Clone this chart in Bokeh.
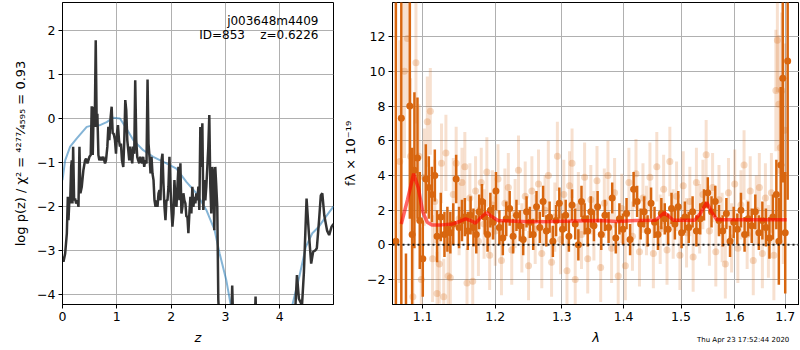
import numpy as np
from bokeh.plotting import figure
from bokeh.layouts import row, column
from bokeh.models import Range1d, FixedTicker, Span, Label, Div
from bokeh.embed import file_html
from bokeh.resources import INLINE

# ---------------- left panel: log p(z) ----------------
z_pz = [0.000, 0.018, 0.049, 0.080, 0.098, 0.110, 0.128, 0.141, 0.159, 0.171, 0.183, 0.196, 0.214, 0.232,
        0.251, 0.275, 0.294, 0.312, 0.330, 0.355, 0.385, 0.416, 0.434, 0.459, 0.477, 0.495, 0.520, 0.538,
        0.557, 0.575, 0.593, 0.612, 0.630, 0.642, 0.661, 0.679, 0.703, 0.722, 0.752, 0.783, 0.801, 0.826,
        0.844, 0.862, 0.887, 0.905, 0.924, 0.942, 0.966, 0.985, 1.003, 1.021, 1.040, 1.058, 1.076, 1.095,
        1.119, 1.138, 1.156, 1.174, 1.193, 1.211, 1.229, 1.248, 1.266, 1.284, 1.303, 1.321, 1.339, 1.358,
        1.376, 1.394, 1.413, 1.431, 1.450, 1.468, 1.486, 1.505, 1.523, 1.547, 1.566, 1.584, 1.602, 1.621,
        1.639, 1.657, 1.676, 1.694, 1.713, 1.731, 1.749, 1.768, 1.786, 1.804, 1.823, 1.841, 1.859, 1.878,
        1.896, 1.914, 1.933, 1.951, 1.969, 1.988, 2.006, 2.024, 2.043, 2.061, 2.080, 2.098, 2.116, 2.135,
        2.153, 2.171, 2.190, 2.208, 2.226, 2.245, 2.263, 2.281, 2.300, 2.318, 2.336, 2.355, 2.373, 2.391,
        2.410, 2.428, 2.446, 2.465, 2.483, 2.502, 2.520, 2.538, 2.557, 2.575, 2.593, 2.612, 2.630, 2.648,
        2.667, 2.685, 2.703, 2.722, 2.740, 2.758, 2.777, 2.795, 2.813, 2.832, 2.850, 2.869, 2.890, 3.100,
        3.125, 3.150, 3.530, 3.555, 3.580, 4.260, 4.317, 4.353, 4.410, 4.445, 4.494, 4.536, 4.579, 4.615,
        4.656, 4.683, 4.725, 4.756, 4.784, 4.820, 4.872, 4.910, 4.955, 4.990]
logp = [-3.14, -3.26, -3.07, -2.61, -1.78, -2.31, -1.82, -1.93, -1.10, -0.95, -1.93, -0.64, -1.86, -1.82,
        -1.93, -1.86, -2.01, -0.64, -1.70, -1.55, -1.17, -0.95, -0.91, -1.02, -0.95, -0.87, -0.83, 0.28,
        -0.83, 0.27, -0.19, 1.78, -0.19, 0.11, -0.83, -0.95, -0.87, -0.95, -0.87, -1.02, -0.95, -0.64,
        -0.19, -0.49, 0.04, 0.27, -0.34, -0.34, -0.49, -0.80, -0.34, -0.15, -0.49, -0.64, -0.57, -0.95,
        -1.10, -0.49, 0.42, 0.19, -0.49, -0.72, -0.95, -0.64, -0.87, -1.02, -0.64, -0.80, 0.87, -0.49,
        -0.87, -0.95, -1.02, -0.87, -0.95, -1.02, -0.87, -1.10, -0.95, -1.02, 0.89, -0.57, -0.87, -1.25,
        -0.87, -1.25, -1.40, -1.86, -2.01, -1.86, -2.01, -1.70, -1.63, -1.86, -0.95, -0.80, -1.48, -2.01,
        -2.31, -1.86, -1.86, -1.55, -0.87, -1.55, -2.08, -2.46, -2.16, -1.40, -1.86, -2.01, -1.55, -1.10,
        -1.86, -1.02, -2.16, -2.01, -1.70, -1.86, -1.93, -2.23, -2.23, -2.61, -2.16, -1.78, -2.16, -1.55,
        -2.01, -1.78, -1.93, -1.70, -1.86, -1.55, -2.08, -0.19, -1.10, -0.11, -2.08, -1.40, -1.86, -1.55,
        -1.10, -0.64, 0.08, -1.55, -2.16, -1.10, -1.25, -2.54, -1.10, -1.55, -2.01, -4.13, -4.60, -5.00,
        -3.80, -5.00, -5.00, -4.05, -5.00, -5.00, -3.56, -4.10, -4.25, -3.50, -1.82, -2.60, -3.30, -3.03,
        -3.00, -2.95, -2.30, -1.75, -1.70, -2.20, -2.55, -2.65, -2.46, -2.40]

z_smooth = [0.000, 0.049, 0.141, 0.263, 0.446, 0.569, 0.691, 0.813, 0.936, 1.058, 1.180, 1.303, 1.486,
            1.670, 1.914, 2.098, 2.281, 2.465, 2.648, 2.801, 2.893, 3.015, 3.150, 3.500, 4.000, 4.240,
            4.360, 4.480, 4.600, 4.720, 4.850, 4.990]
logp_smooth = [-1.40, -0.95, -0.64, -0.45, -0.19, -0.15, -0.15, -0.08, 0.02, 0.00, -0.23, -0.49, -0.72,
               -0.87, -1.02, -1.14, -1.44, -1.70, -2.08, -2.54, -3.07, -3.67, -4.60, -6.00, -6.00, -4.20,
               -3.60, -2.92, -2.61, -2.46, -2.23, -2.00]

z_ticks = [0, 1, 2, 3, 4]
logp_ticks = [-4, -3, -2, -1, 0, 1, 2]
field_name = "j003648m4409"
id_text = "ID=853\u00a0\u00a0\u00a0\u00a0z=0.6226"
ylabel_left = "log p(z) / \u03c7\u00b2 = \u2074\u00b2\u2077\u2077\u2044\u2084\u2085\u2089\u2085 = 0.93"

# ---------------- right panel: spectrum ----------------
lam_d = [1.065, 1.072, 1.078, 1.083, 1.086, 1.089, 1.093, 1.096, 1.100, 1.104, 1.108, 1.112, 1.116, 1.119,
         1.124, 1.129, 1.133, 1.137, 1.141, 1.145, 1.149, 1.153, 1.157, 1.161, 1.165, 1.169, 1.173, 1.177,
         1.181, 1.185, 1.189, 1.193, 1.197, 1.201, 1.206, 1.211, 1.216, 1.221, 1.226, 1.231, 1.236, 1.241,
         1.246, 1.251, 1.256, 1.261, 1.266, 1.271, 1.276, 1.281, 1.286, 1.291, 1.296, 1.301, 1.306, 1.311,
         1.316, 1.321, 1.326, 1.331, 1.336, 1.341, 1.346, 1.351, 1.357, 1.363, 1.369, 1.375, 1.381, 1.387,
         1.393, 1.399, 1.405, 1.411, 1.417, 1.423, 1.429, 1.435, 1.441, 1.447, 1.453, 1.459, 1.465, 1.471,
         1.477, 1.483, 1.489, 1.495, 1.501, 1.507, 1.514, 1.521, 1.528, 1.535, 1.542, 1.549, 1.556, 1.563,
         1.570, 1.577, 1.584, 1.591, 1.598, 1.605, 1.612, 1.619, 1.626, 1.633, 1.640, 1.647, 1.654, 1.661,
         1.668, 1.675, 1.682, 1.687, 1.691, 1.695, 1.700, 1.705]
flux_d = [0.2, 7.3, -4.0, 8.0, 0.6, 4.3, 5.0, 1.4, -0.8, 3.8, 3.3, 2.9, 4.0, 0.5,
          1.6, 0.6, 0.9, 0.7, 1.2, 3.8, 1.0, 1.4, 1.6, 0.8, 1.7, 1.0, 0.6, 1.9,
          2.5, 1.6, 0.6, 2.0, 1.3, 3.1, 1.0, 0.4, 1.5, 2.1, 0.5, 1.7, 1.1, 0.3,
          1.9, 1.3, 0.6, 2.2, 1.0, 2.5, 0.8, 1.6, 0.2, 1.4, 2.4, 0.9, 1.7, 0.5,
          2.3, 1.2, 0.0, 2.5, 1.5, 0.8, 1.9, 1.1, 2.2, 0.6, 1.7, 1.0, 2.7, 0.4,
          1.5, 0.9, 1.8, 0.3, 3.2, 2.5, 1.2, 1.9, 0.8, 2.4, 1.3, 0.6, 1.8, 1.5,
          0.9, 2.1, 1.2, 2.2, 0.7, 1.6, 1.0, 1.9, 0.8, 1.5, 2.3, 3.0, 1.9, 2.5,
          1.4, 0.8, 1.8, 0.2, 1.3, 0.9, 2.0, 0.6, 1.5, 1.1, 1.9, 0.7, 1.4, 1.0,
          0.4, 1.6, 2.9, 0.2, 4.6, 9.6, 0.7, 10.6]
err_d = [14.0, 11.0, 3.5, 6.5, 5.0, 4.5, 3.5, 2.8, 2.2, 2.0, 1.8, 1.6, 1.5, 1.5,
         1.4, 1.3, 1.3, 1.2, 1.2, 1.4, 1.2, 1.2, 1.1, 1.1, 1.1, 1.1, 1.1, 1.0,
         1.0, 1.0, 1.0, 1.0, 1.0, 1.1, 1.0, 1.0, 1.0, 1.0, 1.0, 0.9, 0.9, 0.9,
         0.9, 0.9, 0.9, 0.9, 0.9, 0.9, 0.9, 0.9, 0.9, 0.9, 0.9, 0.9, 0.9, 0.9,
         0.9, 0.9, 0.9, 0.9, 0.9, 0.9, 0.9, 0.9, 0.9, 0.9, 0.9, 0.9, 0.9, 0.9,
         0.9, 0.9, 0.9, 0.9, 1.0, 0.9, 0.9, 0.9, 0.9, 0.9, 0.9, 0.9, 0.9, 0.9,
         0.9, 0.9, 0.9, 0.9, 0.9, 0.9, 0.9, 0.9, 0.9, 0.9, 0.9, 0.9, 0.9, 0.9,
         0.9, 0.9, 0.9, 0.9, 0.9, 0.9, 1.0, 1.0, 1.0, 1.0, 1.0, 1.0, 1.1, 1.1,
         1.2, 1.3, 2.0, 2.5, 4.5, 6.0, 3.5, 8.0]

lam_l = [1.070, 1.076, 1.080, 1.084, 1.087, 1.091, 1.095, 1.098, 1.102, 1.106, 1.110, 1.113, 1.116, 1.119,
         1.122, 1.125, 1.128, 1.131, 1.134, 1.137, 1.141, 1.145, 1.149, 1.153, 1.157, 1.160, 1.164, 1.168,
         1.172, 1.176, 1.180, 1.184, 1.188, 1.192, 1.196, 1.200, 1.204, 1.209, 1.214, 1.219, 1.224, 1.229,
         1.234, 1.239, 1.244, 1.249, 1.254, 1.259, 1.264, 1.269, 1.274, 1.279, 1.284, 1.289, 1.293, 1.298,
         1.303, 1.308, 1.312, 1.316, 1.321, 1.326, 1.331, 1.336, 1.341, 1.346, 1.351, 1.356, 1.362, 1.368,
         1.374, 1.380, 1.385, 1.391, 1.397, 1.403, 1.409, 1.415, 1.421, 1.427, 1.433, 1.439, 1.445, 1.451,
         1.457, 1.463, 1.469, 1.475, 1.480, 1.486, 1.492, 1.498, 1.504, 1.510, 1.516, 1.522, 1.528, 1.534,
         1.540, 1.546, 1.552, 1.558, 1.564, 1.570, 1.576, 1.582, 1.588, 1.594, 1.600, 1.606, 1.612, 1.618,
         1.624, 1.630, 1.636, 1.642, 1.648, 1.654, 1.660, 1.666, 1.672, 1.677, 1.681, 1.684, 1.687, 1.690,
         1.693, 1.696, 1.699]
flux_l = [4.8, 10.0, 11.9, 5.1, -3.0, 10.5, 5.1, -2.0, 3.9, 7.1, 7.7, -0.8, 2.5, -2.8,
          -1.1, 4.7, -3.0, 5.3, -1.8, -1.9, 2.9, 4.7, 1.5, 3.6, 4.5, -2.2, 2.7, -2.1,
          3.1, 0.2, 3.6, 1.2, 4.2, -0.6, 2.3, 0.8, 3.8, -0.9, 2.4, 3.3, -0.3, 1.8,
          4.3, 0.4, 2.8, -1.2, 3.1, 0.9, 3.5, -0.5, 2.0, 4.0, -1.0, 1.6, 5.1, 0.3,
          2.9, -1.5, 3.4, 4.7, -2.0, 2.2, 0.6, 3.9, -0.8, 2.6, 1.1, 3.7, -1.3, 2.4,
          4.0, -0.2, 3.0, -1.8, 2.1, -1.2, 3.6, 0.5, 4.1, -0.4, 2.7, 1.4, 3.9, -0.5,
          4.5, 0.9, 3.2, -0.3, 4.8, 1.2, 2.8, -0.6, 3.4, 0.7, 2.5, -0.7, 3.6, 1.5,
          2.9, 5.2, 0.8, 3.3, -0.4, 2.6, 1.0, -1.1, 3.0, 0.4, 3.5, -0.2, 2.3, 4.6,
          0.6, 3.1, -0.9, 2.0, 3.3, -0.5, 2.7, 0.2, 3.0, -0.6, 8.9, 11.8, 8.1, 5.6,
          8.9, 3.9, 6.6]
err_l = [7.0, 5.0, 4.0, 4.5, 4.0, 3.5, 3.0, 3.0, 2.8, 2.6, 2.5, 2.5, 2.4, 2.4,
         2.3, 2.3, 2.2, 2.2, 2.2, 2.1, 2.1, 2.1, 2.1, 2.0, 2.0, 2.0, 2.0, 2.0,
         2.0, 2.0, 2.0, 2.0, 2.0, 2.0, 2.0, 2.0, 2.0, 2.0, 2.0, 2.0, 2.0, 2.0,
         2.0, 2.0, 2.0, 2.0, 2.0, 2.0, 2.0, 2.0, 2.0, 2.0, 2.0, 2.0, 2.0, 2.0,
         2.0, 2.0, 2.0, 2.0, 2.0, 2.0, 2.0, 2.0, 2.0, 2.0, 2.0, 2.0, 2.0, 2.0,
         2.0, 2.0, 2.0, 2.0, 2.0, 2.0, 2.0, 2.0, 2.0, 2.0, 2.0, 2.0, 2.0, 2.0,
         2.0, 2.0, 2.0, 2.0, 2.0, 2.0, 2.0, 2.0, 2.0, 2.0, 2.0, 2.0, 2.0, 2.0,
         2.0, 2.0, 2.0, 2.0, 2.0, 2.0, 2.0, 2.0, 2.0, 2.0, 2.0, 2.0, 2.0, 2.0,
         2.0, 2.0, 2.0, 2.0, 2.0, 2.0, 2.0, 2.1, 2.3, 2.6, 3.5, 3.0, 4.0, 4.0,
         4.5, 5.0, 5.0]

lam_model = [1.072, 1.080, 1.088, 1.094, 1.100, 1.106, 1.112, 1.125, 1.140, 1.150, 1.158, 1.165, 1.172,
             1.180, 1.188, 1.196, 1.204, 1.220, 1.250, 1.280, 1.320, 1.360, 1.390, 1.420, 1.455, 1.463,
             1.470, 1.478, 1.486, 1.525, 1.535, 1.547, 1.556, 1.566, 1.600, 1.650, 1.703]
flux_model = [1.2, 2.6, 4.1, 3.3, 1.9, 1.3, 1.15, 1.15, 1.2, 1.35, 1.5, 1.4, 1.25,
              1.6, 1.85, 1.6, 1.4, 1.38, 1.33, 1.35, 1.38, 1.40, 1.35, 1.40, 1.42, 1.65,
              1.85, 1.65, 1.42, 1.42, 1.8, 2.45, 1.9, 1.45, 1.45, 1.45, 1.45]

lam_ticks = [1.1, 1.2, 1.3, 1.4, 1.5, 1.6, 1.7]
flux_ticks = [-2, 0, 2, 4, 6, 8, 10, 12]
timestamp = "Thu Apr 23 17:52:44 2020"

FONT = "DejaVu Sans"
ORANGE = "#d8660f"
GRID = "#b0b0b0"


def style(p):
    p.outline_line_color = "black"
    p.outline_line_width = 1
    p.outline_line_alpha = 1
    p.background_fill_color = "white"
    p.border_fill_color = "white"
    for ax in (p.xaxis, p.yaxis):
        ax.axis_line_color = "black"
        ax.major_tick_line_color = "black"
        ax.major_tick_in = 0
        ax.major_tick_out = 4
        ax.minor_tick_line_color = None
        ax.major_label_text_font = FONT
        ax.major_label_text_font_size = "12.5px"
        ax.major_label_text_color = "black"
        ax.major_label_standoff = 3
        ax.axis_label_text_font = FONT
        ax.axis_label_text_font_size = "13px"
        ax.axis_label_text_color = "black"
        ax.axis_label_standoff = 6
    p.yaxis.axis_label_text_font_style = "normal"
    p.grid.grid_line_color = GRID
    p.grid.grid_line_width = 1


def minus(v):
    return str(v).replace("-", "\u2212")


# ---- left figure
p1 = figure(width=340, height=349, output_backend="svg", toolbar_location=None,
            x_range=Range1d(0, 4.99), y_range=Range1d(-4.23, 2.64),
            min_border_left=62, min_border_right=7, min_border_top=2, min_border_bottom=45)
style(p1)
p1.xaxis.ticker = FixedTicker(ticks=z_ticks)
p1.yaxis.ticker = FixedTicker(ticks=logp_ticks)
p1.yaxis.major_label_overrides = {t: minus(t) for t in logp_ticks}
p1.xaxis.axis_label = "z"
p1.xaxis.axis_label_text_font_style = "italic"
p1.yaxis.axis_label = ylabel_left

p1.line(z_smooth, logp_smooth, line_color="#1f77b4", line_alpha=0.55, line_width=2)
p1.line(z_pz, logp, line_color="#333333", line_width=2.5)

p1.add_layout(Label(x=256, y=284, x_units="screen", y_units="screen", text=field_name,
                    text_align="right", text_baseline="middle", text_font=FONT,
                    text_font_size="12px", text_color="black"))
p1.add_layout(Label(x=256, y=270, x_units="screen", y_units="screen", text=id_text,
                    text_align="right", text_baseline="middle", text_font=FONT,
                    text_font_size="12px", text_color="black"))

# ---- right figure
p2 = figure(width=459, height=349, output_backend="svg", toolbar_location=None,
            x_axis_type="log", x_range=Range1d(1.0607, 1.7294), y_range=Range1d(-3.44, 13.97),
            min_border_left=52, min_border_right=0, min_border_top=2, min_border_bottom=45)
style(p2)
p2.xaxis.ticker = FixedTicker(ticks=lam_ticks)
p2.xaxis.major_label_overrides = {t: str(t) for t in lam_ticks}
p2.yaxis.ticker = FixedTicker(ticks=flux_ticks)
p2.yaxis.major_label_overrides = {t: minus(t) for t in flux_ticks}
p2.xaxis.axis_label = "\u03bb"
p2.xaxis.axis_label_text_font_style = "italic"
p2.yaxis.axis_label = "f\u03bb \u00d7 10\u207b\u00b9\u2079"

ld = np.array(lam_d); fd = np.array(flux_d); ed = np.array(err_d)
ll = np.array(lam_l); fl = np.array(flux_l); el = np.array(err_l)

p2.segment(x0=ll, y0=fl - el, x1=ll, y1=fl + el, line_color=ORANGE, line_alpha=0.2, line_width=3)
p2.scatter(ll, fl, size=7, fill_color=ORANGE, fill_alpha=0.25, line_color=None)
p2.segment(x0=ld, y0=fd - ed, x1=ld, y1=fd + ed, line_color=ORANGE, line_alpha=1.0, line_width=2.5)
p2.scatter(ld, fd, size=7, fill_color=ORANGE, fill_alpha=1.0, line_color=None)
p2.line(lam_model, flux_model, line_color="red", line_alpha=0.6, line_width=3.5)

p2.add_layout(Span(location=0, dimension="width", line_color="black", line_dash="2 3",
                   line_width=2, line_alpha=0.85))

ts_div = Div(text=timestamp, width=100, height=10, margin=(-14, 0, 0, 697),
             styles={"font-family": "DejaVu Sans", "font-size": "7px", "color": "black",
                     "white-space": "nowrap", "line-height": "10px"})

layout = column(row(p1, p2), ts_div)
open("out.html", "w").write(file_html(layout, INLINE))
